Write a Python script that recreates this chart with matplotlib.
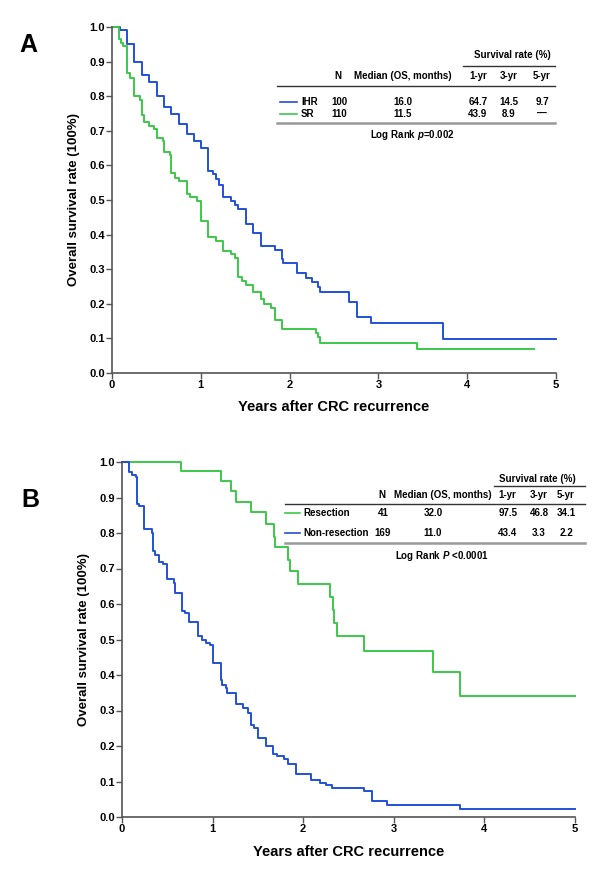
import matplotlib
matplotlib.use("Agg")
import matplotlib.pyplot as plt
from matplotlib.lines import Line2D

plt.rcParams['font.family'] = ['Liberation Sans', 'DejaVu Sans']
plt.rcParams['font.weight'] = 'bold'
plt.rcParams['mathtext.fontset'] = 'custom'
plt.rcParams['mathtext.it'] = 'Liberation Sans:italic'
plt.rcParams['mathtext.rm'] = 'Liberation Sans:bold'

BLUE = '#2350D6'
GREEN = '#3CC84A'

# ---------------- Panel A data ----------------
ihr_t = [0, 0.09, 0.165, 0.25, 0.334, 0.42, 0.503, 0.585, 0.67, 0.758, 0.84, 0.923, 1.0,
         1.085, 1.14, 1.17, 1.2, 1.254, 1.336, 1.385, 1.42, 1.505, 1.59, 1.674, 1.835,
         1.92, 1.93, 2.087, 2.185, 2.256, 2.32, 2.34, 2.67, 2.755, 2.917, 3.73, 5.0]
ihr_s = [1.0, 0.99, 0.95, 0.90, 0.86, 0.84, 0.80, 0.77, 0.75, 0.72, 0.69, 0.67, 0.65,
         0.585, 0.575, 0.56, 0.543, 0.51, 0.497, 0.485, 0.473, 0.43, 0.405, 0.368, 0.355,
         0.33, 0.317, 0.29, 0.276, 0.262, 0.248, 0.235, 0.206, 0.161, 0.145, 0.097, 0.097]

sr_t = [0, 0.083, 0.10, 0.12, 0.165, 0.20, 0.25, 0.31, 0.334, 0.36, 0.42, 0.473, 0.503,
        0.578, 0.585, 0.653, 0.67, 0.71, 0.758, 0.84, 0.88, 0.96, 1.0, 1.085, 1.17, 1.254,
        1.336, 1.385, 1.42, 1.46, 1.505, 1.59, 1.674, 1.71, 1.795, 1.835, 1.92, 2.297,
        2.32, 2.34, 3.43, 4.75]
sr_s = [1.0, 0.965, 0.955, 0.945, 0.866, 0.854, 0.80, 0.79, 0.746, 0.724, 0.714, 0.704, 0.68,
        0.67, 0.64, 0.63, 0.577, 0.565, 0.555, 0.518, 0.508, 0.498, 0.44, 0.392, 0.382, 0.353,
        0.344, 0.333, 0.278, 0.267, 0.254, 0.233, 0.214, 0.199, 0.187, 0.153, 0.127, 0.115,
        0.103, 0.088, 0.068, 0.068]

# ---------------- Panel B data ----------------
res_t = [0, 0.647, 1.089, 1.2, 1.255, 1.424, 1.586, 1.678, 1.69, 1.836, 1.85, 1.946,
         2.296, 2.33, 2.34, 2.37, 2.675, 3.437, 3.73, 5.0]
res_s = [1.0, 0.976, 0.947, 0.919, 0.888, 0.858, 0.824, 0.79, 0.76, 0.724, 0.694, 0.656,
         0.62, 0.583, 0.547, 0.51, 0.469, 0.409, 0.342, 0.342]

non_t = [0, 0.081, 0.11, 0.151, 0.169, 0.19, 0.246, 0.328, 0.34, 0.36, 0.412, 0.455, 0.493,
         0.50, 0.574, 0.58, 0.659, 0.665, 0.70, 0.743, 0.835, 0.88, 0.93, 0.971, 1.008,
         1.089, 1.10, 1.145, 1.16, 1.255, 1.34, 1.39, 1.42, 1.46, 1.505, 1.586, 1.67, 1.71,
         1.79, 1.836, 1.92, 2.086, 2.186, 2.25, 2.32, 2.675, 2.756, 2.93, 3.73, 5.0]
non_s = [1.0, 0.973, 0.964, 0.959, 0.882, 0.876, 0.81, 0.80, 0.75, 0.738, 0.719, 0.712, 0.699,
         0.67, 0.658, 0.63, 0.623, 0.581, 0.575, 0.55, 0.51, 0.50, 0.491, 0.484, 0.435,
         0.386, 0.372, 0.363, 0.349, 0.317, 0.306, 0.292, 0.259, 0.252, 0.222, 0.2, 0.177, 0.172,
         0.163, 0.149, 0.12, 0.104, 0.097, 0.09, 0.081, 0.073, 0.046, 0.034, 0.023, 0.023]

# table contents
a_groups = ['IHR', 'SR']
a_n = ['100', '110']
a_median = ['16.0', '11.5']
a_rates = [['64.7', '14.5', '9.7'], ['43.9', '8.9', '\u2014']]
a_p = 'Log Rank $\\mathit{p}$=0.002'

b_groups = ['Resection', 'Non-resection']
b_n = ['41', '169']
b_median = ['32.0', '11.0']
b_rates = [['97.5', '46.8', '34.1'], ['43.4', '3.3', '2.2']]
b_p = 'Log Rank $\\mathit{P}$ <0.0001'

yticks = [0.0, 0.1, 0.2, 0.3, 0.4, 0.5, 0.6, 0.7, 0.8, 0.9, 1.0]
xticks = [0, 1, 2, 3, 4, 5]

W, H = 600, 876
fig = plt.figure(figsize=(W / 100, H / 100), dpi=100)


def fx(x):
    return x / W


def fy(y):
    return 1 - y / H


def make_ax(left, right, top, bottom):
    ax = fig.add_axes([fx(left), fy(bottom), (right - left) / W, (bottom - top) / H])
    ax.set_xlim(0, 5)
    ax.set_ylim(0, 1)
    for s in ['top', 'right']:
        ax.spines[s].set_visible(False)
    for s in ['left', 'bottom']:
        ax.spines[s].set_color('#555555')
        ax.spines[s].set_linewidth(1.2)
    ax.set_yticks(yticks)
    ax.set_yticklabels(['%.1f' % v for v in yticks], fontsize=8, fontweight='bold')
    ax.set_xticks(xticks)
    ax.set_xticklabels([str(v) for v in xticks], fontsize=8, fontweight='bold')
    ax.tick_params(direction='out', length=4, width=1, color='#555555', pad=1)
    ax.set_ylabel('Overall survival rate (100%)', fontsize=9.5, fontweight='bold')
    ax.set_xlabel('Years after CRC recurrence', fontsize=10.5, fontweight='bold')
    return ax


def txt(x, y, s, ha='center', size=7):
    fig.text(fx(x), fy(y), s, ha=ha, va='center', fontsize=size, fontweight='bold')


def hline(x0, x1, y, color='#333333', lw=1.0):
    fig.add_artist(Line2D([fx(x0), fx(x1)], [fy(y), fy(y)], color=color, lw=lw,
                          transform=fig.transFigure))


# ---------------- Panel A ----------------
axA = make_ax(112, 556, 27, 373)
axA.step(ihr_t, ihr_s, where='post', color=BLUE, lw=1.4, clip_on=False)
axA.step(sr_t, sr_s, where='post', color=GREEN, lw=1.4, clip_on=False)
axA.yaxis.set_label_coords(-0.072, 0.5)
axA.xaxis.set_label_coords(0.5, -0.078)

fig.text(fx(28), fy(45), 'A', fontsize=18, fontweight='bold', ha='center', va='center')

txt(512, 55, 'Survival rate (%)')
hline(463, 555, 66)
txt(338, 76, 'N')
txt(403, 76, 'Median (OS, months)')
for x, h in zip([478, 509, 542], ['1-yr', '3-yr', '5-yr']):
    txt(x, 76, h)
hline(277, 555, 86)
for i, (y, col) in enumerate(zip([102, 114], [BLUE, GREEN])):
    fig.add_artist(Line2D([fx(280), fx(297)], [fy(y), fy(y)], color=col, lw=1.2,
                          transform=fig.transFigure))
    txt(301, y, a_groups[i], ha='left')
    txt(339, y, a_n[i])
    txt(403, y, a_median[i])
    for x, v in zip([478, 509, 542], a_rates[i]):
        txt(x, y, v)
hline(277, 555, 123, color='#999999', lw=1.8)
txt(412, 135, a_p)

# ---------------- Panel B ----------------
axB = make_ax(122, 575, 462, 817)
axB.step(res_t, res_s, where='post', color=GREEN, lw=1.4, clip_on=False)
axB.step(non_t, non_s, where='post', color=BLUE, lw=1.4, clip_on=False)
axB.yaxis.set_label_coords(-0.071, 0.5)
axB.xaxis.set_label_coords(0.5, -0.078)

fig.text(fx(30), fy(500), 'B', fontsize=18, fontweight='bold', ha='center', va='center')

txt(537, 479, 'Survival rate (%)')
hline(494, 585, 486)
txt(382, 495, 'N')
txt(443, 495, 'Median (OS, months)')
for x, h in zip([507, 539, 566], ['1-yr', '3-yr', '5-yr']):
    txt(x, 495, h)
hline(285, 585, 504)
for i, (y, col) in enumerate(zip([513, 533], [GREEN, BLUE])):
    fig.add_artist(Line2D([fx(285), fx(300)], [fy(y), fy(y)], color=col, lw=1.2,
                          transform=fig.transFigure))
    txt(303, y, b_groups[i], ha='left')
    txt(383, y, b_n[i])
    txt(433, y, b_median[i])
    for x, v in zip([508, 539, 566], b_rates[i]):
        txt(x, y, v)
hline(285, 585, 543, color='#999999', lw=1.8)
txt(442, 556, b_p)

fig.savefig('out.png', dpi=100)
